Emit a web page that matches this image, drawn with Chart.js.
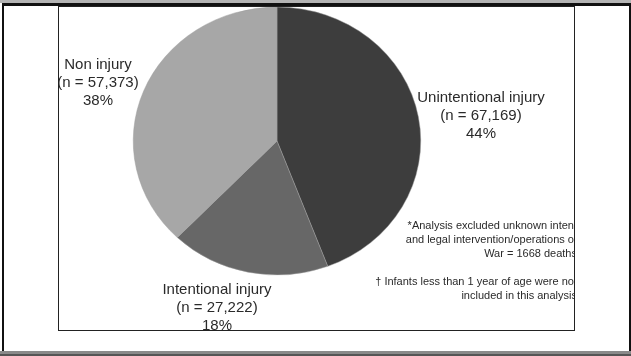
<!DOCTYPE html>
<html>
<head>
<meta charset="utf-8">
<script src="https://cdn.jsdelivr.net/npm/chart.js@4.4.1/dist/chart.umd.min.js"></script>
<style>
  html, body { margin: 0; padding: 0; background: #fff; }
  body { width: 631px; height: 356px; position: relative; overflow: hidden; font-family: "Liberation Sans", Arial, sans-serif; }
  #topband { position: absolute; left: 0; top: 0; width: 631px; height: 3px; background: #b4b4b4; }
  #frame { position: absolute; left: 2px; top: 3px; width: 625px; height: 348px; border-top: 3px solid #111; border-left: 2px solid #111; border-right: 3px solid #111; }
  #botband { position: absolute; left: 0; top: 351px; width: 631px; height: 3px; background: #8a8a8a; }
  #botband2 { position: absolute; left: 0; top: 354px; width: 631px; height: 2px; background: #555; }
  #box { position: absolute; left: 58px; top: 6px; width: 515px; height: 323px; border: 1.5px solid #222; overflow: hidden; z-index: 3; pointer-events: none; }
  #wrap { position: absolute; left: 0; top: -20px; width: 631px; height: 400px; z-index: 1; }
  .lbl { position: absolute; font-size: 15px; line-height: 18px; color: #2a2a2a; text-align: center; white-space: nowrap; transform: translateX(-50%); z-index: 2; }
  .note { position: absolute; right: -3px; font-size: 11px; line-height: 14px; color: #2a2a2a; text-align: right; white-space: nowrap; }
</style>
</head>
<body>
<div id="topband"></div>
<div id="frame"></div>
<div id="botband"></div>
<div id="botband2"></div>
<div id="wrap"><canvas id="pieChart"></canvas></div>
<div id="labels"></div>
<div id="box">
  <div class="note" style="top:211px">*Analysis excluded unknown intent<br>and legal intervention/operations of<br>War = 1668 deaths</div>
  <div class="note" style="top:267px">† Infants less than 1 year of age were not<br>included in this analysis</div>
</div>
<script>
// datos del gráfico
const categories = ['Unintentional injury', 'Intentional injury', 'Non injury'];
const deaths = [67169, 27222, 57373];
const colors = ['#3d3d3d', '#676767', '#a7a7a7'];

// posición de cada etiqueta (centro x, arriba y)
const labelPos = [[481, 88], [217, 280], [98, 55]];

const total = deaths.reduce((a, b) => a + b, 0);

// etiquetas como texto html
const labelsDiv = document.getElementById('labels');
categories.forEach((cat, i) => {
  const pct = Math.round(deaths[i] / total * 100);
  const el = document.createElement('div');
  el.className = 'lbl';
  el.style.left = labelPos[i][0] + 'px';
  el.style.top = labelPos[i][1] + 'px';
  el.innerHTML = cat + '<br>(n = ' + deaths[i].toLocaleString('en-US') + ')<br>' + pct + '%';
  labelsDiv.appendChild(el);
});

// el pastel original está un poco aplastado en vertical
const squash = {
  id: 'squash',
  beforeDatasetsDraw(chart) {
    const a = chart.chartArea;
    const cy = (a.top + a.bottom) / 2;
    chart.ctx.save();
    chart.ctx.translate(0, cy);
    chart.ctx.scale(1, 0.932);
    chart.ctx.translate(0, -cy);
  },
  afterDatasetsDraw(chart) {
    chart.ctx.restore();
  }
};

new Chart(document.getElementById('pieChart').getContext('2d'), {
  type: 'pie',
  data: {
    labels: categories,
    datasets: [{
      data: deaths,
      backgroundColor: colors,
      borderColor: '#9c9c9c',
      borderWidth: 0.5
    }]
  },
  options: {
    responsive: true,
    maintainAspectRatio: false,
    animation: false,
    layout: { padding: { left: 133, right: 210, top: 17, bottom: 95 } },
    plugins: {
      legend: { display: false },
      tooltip: { enabled: false }
    }
  },
  plugins: [squash]
});
</script>
</body>
</html>
